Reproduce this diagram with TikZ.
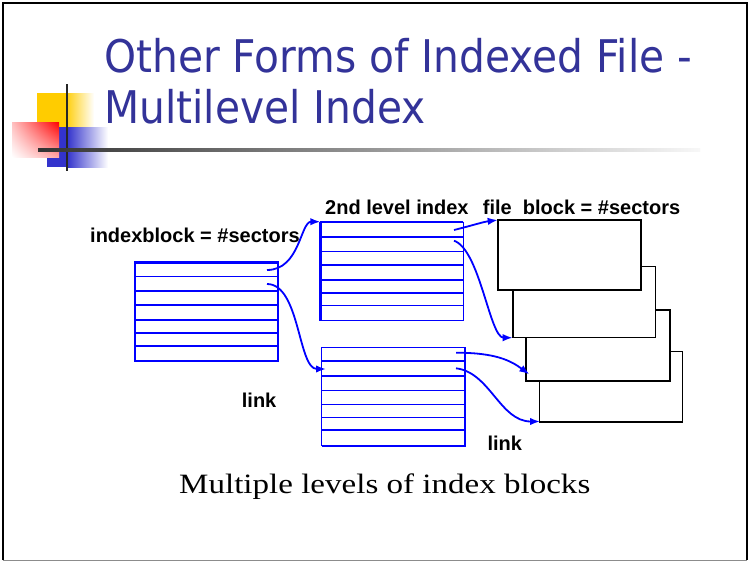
\documentclass[tikz,border=0pt]{standalone}
\usepackage{fontspec}
\setmainfont{Liberation Serif}
\newfontfamily\titlefont{DejaVu Sans}
\newfontfamily\lblfont{Liberation Sans}
\usetikzlibrary{arrows.meta,calc,shadings}
\definecolor{titleblue}{HTML}{333399}
\definecolor{idxblue}{HTML}{0000FF}
\definecolor{logoyellow}{HTML}{FFCC00}
\definecolor{logoblue}{HTML}{3333CC}
\tikzset{
  thk/.style={idxblue, line width=2.2pt},
  thn/.style={idxblue, line width=1.1pt},
  slot/.style={draw=none, inner sep=0pt, outer sep=0pt, anchor=north west},
  fileblk/.style={draw=black, fill=white, inner sep=0pt, outer sep=0pt, anchor=north west},
  lbl/.style={anchor=base west, inner sep=0pt, font=\lblfont\bfseries\fontsize{20}{20}\selectfont},
  ttl/.style={anchor=base west, inner sep=0pt, text=titleblue, font=\titlefont\fontsize{45}{45}\selectfont},
  link/.style={idxblue, line width=1.8pt, -{Latex[length=10pt,width=7.5pt]}},
}
\begin{document}
\begin{tikzpicture}[x=1pt,y=-1pt]
\useasboundingbox (0,0) rectangle (749,562);
\fill[white] (0,0) rectangle (749,562);

% slide frame
\draw[black, line width=2pt] (3,560) -- (3,3) -- (747,3) -- (747,560);
\draw[black!45, line width=1.5pt] (3,560.5) -- (747,560.5);

% corner logo
\fill[logoyellow] (37,93) rectangle (65,127);
\shade[left color=logoyellow, right color=white] (65,93) rectangle (94,127);
\fill[logoblue] (47,127) rectangle (67,167);
\shade[left color=logoblue, right color=white] (67,127) rectangle (108,167);
\shade[upper left=red!25, upper right=red, lower left=white, lower right=red!35] (12,122) rectangle (59,157);
\fill[black!85] (65.5,84) rectangle (68,171);
\shade[left color=black!80, right color=black!3] (38,148.8) rectangle (700,151.6);

% title
\node[ttl] (t1) at (104,72) {\scalebox{0.905}[1]{Other Forms of Indexed File -}};
\node[ttl] (t2) at (104,123.5) {\scalebox{0.905}[1]{Multilevel Index}};

% first-level index block
\node[slot, minimum width=143pt, minimum height=98.5pt] (L) at (135,262.5) {};
\foreach \yy/\st in {276.7/thn, 290.7/thk, 305/thn, 319.7/thk, 332.7/thk, 345.7/thk}
  \draw[\st] (135,\yy) -- (278,\yy);
\draw[thk] (L.north west) rectangle (L.south east);

% upper second-level index block
\node[slot, minimum width=143pt, minimum height=99pt] (U) at (320.3,221.7) {};
\foreach \yy/\st in {236.7/thk, 251.3/thn, 265.3/thk, 279.7/thk, 293.3/thk, 305.7/thn}
  \draw[\st] (320.3,\yy) -- (463.3,\yy);
\draw[thn] (U.north east) -- (U.south east) -- (U.south west);
\draw[thk] (U.north east) -- (U.north west);
\draw[idxblue, line width=2.8pt] (U.north west) -- (U.south west);

% lower second-level index block
\node[slot, minimum width=143.8pt, minimum height=98.7pt] (W) at (321.5,347.3) {};
\foreach \yy/\st in {361/thk, 375.7/thk, 390.3/thn, 404.3/thn, 417.5/thn, 430/thk}
  \draw[\st] (321.5,\yy) -- (465.3,\yy);
\draw[thn] (W.south west) -- (W.north west) -- (W.north east);
\draw[thk] (W.north east) -- (W.south east) -- (W.south west);

% file blocks, back to front
\node[fileblk, line width=1.1pt, minimum width=143pt, minimum height=70.6pt] (F4) at (539.3,351.7) {};
\draw[black, line width=2.2pt] (F4.south west) -- (F4.south east);
\node[fileblk, line width=2.2pt, minimum width=144.3pt, minimum height=71.3pt] (F3) at (525.7,310) {};
\node[fileblk, line width=1.3pt, minimum width=142.6pt, minimum height=71pt] (F2) at (512.7,266.7) {};
\draw[black, line width=2.2pt] (F2.north west) -- (F2.south west);
\node[fileblk, line width=2.2pt, minimum width=143.3pt, minimum height=70.3pt] (F1) at (497.7,220) {};

% pointer origins and targets
\coordinate (l1) at (267,270);
\coordinate (l2) at (267,284);
\coordinate (u1) at (454,230);
\coordinate (u2) at (454,240.7);
\coordinate (w1) at (456,352.7);
\coordinate (w2) at (456,368.3);
\coordinate (wt) at (326,369);
\coordinate (f3t) at (529.3,374.3);
\coordinate (f4t) at (540,421.5);

\draw[link] (l1) .. controls +(33,0) and +(-20,0) .. (U.north west);
\draw[link] (l2) .. controls +(33,0) and +(-28,0) .. (wt);
\draw[link] (u1) .. controls +(20,-5) and +(-15,2) .. (F1.north west);
\draw[link] (u2) .. controls +(26,9) and +(-23,0) .. (F2.south west);
\draw[link] (w1) .. controls +(39,0) and +(-19,-14) .. (f3t);
\draw[link] (w2) .. controls +(34,4) and +(-40,0) .. (f4t);

% labels
\node[lbl] (lab1) at (90,242.5) {indexblock = \#sectors};
\node[lbl] (lab2) at (325,214) {2nd level index};
\node[lbl] (lab3) at (482.7,214) {file\ \ block = \#sectors};
\node[lbl] (lk1) at (241.7,407) {link};
\node[lbl] (lk2) at (487.3,450) {link};

% caption
\node[anchor=base west, inner sep=0pt, font=\fontsize{28}{28}\selectfont] (cap) at (179,493.3)
  {\scalebox{1.18}[1]{Multiple levels of index blocks}};
\end{tikzpicture}
\end{document}
